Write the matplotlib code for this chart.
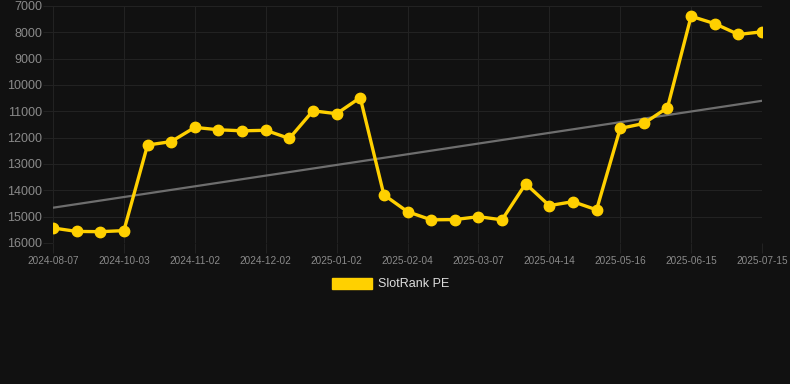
import matplotlib
matplotlib.use('Agg')
import matplotlib.pyplot as plt
from matplotlib.patches import Patch

plt.rcParams['font.family'] = ['Liberation Sans', 'DejaVu Sans']

# one point per slot on the category axis, only every third one labelled
tick_labels = ['2024-08-07', '2024-10-03', '2024-11-02', '2024-12-02', '2025-01-02',
               '2025-02-04', '2025-03-07', '2025-04-14', '2025-05-16', '2025-06-15',
               '2025-07-15']
rank = [15430, 15560, 15570, 15530, 12280, 12150, 11610, 11700, 11740, 11720,
        12030, 10980, 11090, 10480, 14170, 14810, 15120, 15110, 15000, 15120,
        13750, 14580, 14430, 14740, 11650, 11460, 10860, 7390, 7670, 8080, 7980]
trend = [14660, 10600]  # trend line at first and last point
series_name = 'SlotRank PE'

bg = '#111111'
gold = '#FFD000'

fig = plt.figure(figsize=(7.9, 3.84), dpi=100, facecolor=bg)
ax = fig.add_axes([53 / 790, 141 / 384, 709 / 790, 237 / 384], facecolor=bg)

xs = list(range(len(rank)))
ax.plot([xs[0], xs[-1]], trend, color='#6e6e6e', lw=1.6, zorder=2)
ax.plot(xs, rank, color=gold, lw=2.4, marker='o', ms=7.5, zorder=3)

ax.set_xlim(0, len(rank) - 1)
ax.set_ylim(16000, 7000)
ax.set_yticks(range(7000, 16001, 1000))
ax.set_xticks(xs[::3])
ax.set_xticklabels(tick_labels)

ax.grid(True, color='#222222', lw=0.8)
ax.set_axisbelow(True)
for s in ax.spines.values():
    s.set_visible(False)
ax.tick_params(axis='y', colors='#222222', labelcolor='#8a8a8a', labelsize=9, length=7, pad=1)
ax.tick_params(axis='x', colors='#222222', labelcolor='#8a8a8a', labelsize=7.2, length=7, pad=2)

handle = Patch(facecolor=gold, edgecolor=gold)
fig.legend([handle], [series_name], loc='center', bbox_to_anchor=(0.494, 1 - 284 / 384),
           frameon=False, fontsize=9, labelcolor='#dddddd', handlelength=3.2,
           handleheight=1.0, handletextpad=0.5)

fig.savefig('out.png', dpi=100, facecolor=bg)
